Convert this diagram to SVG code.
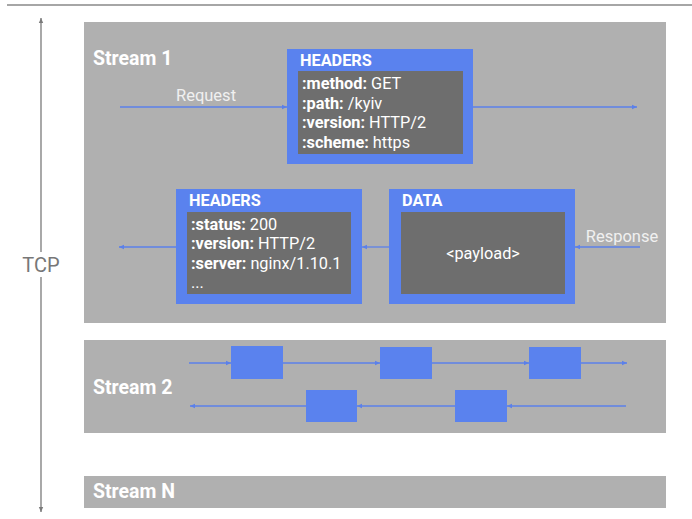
<svg xmlns="http://www.w3.org/2000/svg" width="692" height="519" viewBox="0 0 692 519">
<defs>
<style>
.stream{fill:#b0b0b0}
.blue{fill:#5a82ee}
.dark{fill:#6e6e6e}
.title{font-family:Roboto,"Liberation Sans",sans-serif;font-weight:bold;fill:#ffffff;font-size:19.5px}
.htitle{font-family:Roboto,"Liberation Sans",sans-serif;font-weight:bold;fill:#ffffff;font-size:16.3px}
.txt{font-family:Roboto,"Liberation Sans",sans-serif;fill:#ffffff;font-size:16.3px}
.lbl{font-family:Roboto,"Liberation Sans",sans-serif;fill:#f0f0f0;font-size:16.5px}
.conn{stroke:#5b80ea;stroke-width:1.3;fill:none;marker-end:url(#ah)}
.axis{stroke:#7a7a7a;stroke-width:1.3;fill:none}
</style>
<marker id="ah" markerWidth="6" markerHeight="6" refX="5" refY="3" orient="auto" markerUnits="userSpaceOnUse">
<path d="M0,0.8 L5,3 L0,5.2 z" fill="#5b80ea"/>
</marker>
<marker id="gah" markerWidth="6" markerHeight="6" refX="5" refY="3" orient="auto" markerUnits="userSpaceOnUse">
<path d="M0,0.8 L5,3 L0,5.2 z" fill="#7a7a7a"/>
</marker>
</defs>
<rect width="692" height="519" fill="#ffffff"/>
<line x1="7" y1="5" x2="692" y2="5" stroke="#888888" stroke-width="1.5"/>
<g id="tcp">
<line class="axis" x1="41" y1="252" x2="41" y2="18" marker-end="url(#gah)"/>
<line class="axis" x1="41" y1="277" x2="41" y2="512" marker-end="url(#gah)"/>
<text x="41" y="272" text-anchor="middle" font-family="Roboto,'Liberation Sans',sans-serif" font-size="20" fill="#777777">TCP</text>
</g>
<g id="stream1">
<rect class="stream" x="84" y="22" width="582" height="301"/>
<text class="title" x="93" y="65">Stream 1</text>
</g>
<g id="stream2">
<rect class="stream" x="84" y="340" width="582" height="93"/>
<text class="title" x="93" y="394">Stream 2</text>
</g>
<g id="streamN">
<rect class="stream" x="84" y="476" width="582" height="32"/>
<text class="title" x="93" y="498">Stream N</text>
</g>
<g id="req-headers">
<rect class="blue" x="287" y="49" width="186" height="115"/>
<rect class="dark" x="298" y="71" width="165" height="83"/>
<text class="htitle" x="300" y="65.5">HEADERS</text>
<text class="txt" x="302" y="89"><tspan font-weight="bold">:method:</tspan> GET</text>
<text class="txt" x="302" y="109"><tspan font-weight="bold">:path:</tspan> /kyiv</text>
<text class="txt" x="302" y="128"><tspan font-weight="bold">:version:</tspan> HTTP/2</text>
<text class="txt" x="302" y="147.5"><tspan font-weight="bold">:scheme:</tspan> https</text>
</g>
<g id="resp-headers">
<rect class="blue" x="176" y="189" width="186" height="115"/>
<rect class="dark" x="187" y="212" width="164" height="82"/>
<text class="htitle" x="189" y="205.5">HEADERS</text>
<text class="txt" x="191" y="230"><tspan font-weight="bold">:status:</tspan> 200</text>
<text class="txt" x="191" y="249"><tspan font-weight="bold">:version:</tspan> HTTP/2</text>
<text class="txt" x="191" y="269"><tspan font-weight="bold">:server:</tspan> nginx/1.10.1</text>
<text class="txt" x="191" y="288">...</text>
</g>
<g id="data">
<rect class="blue" x="389" y="189" width="186" height="115"/>
<rect class="dark" x="401" y="212" width="164" height="82"/>
<text class="htitle" x="402" y="205.5">DATA</text>
<text class="txt" x="483" y="259" text-anchor="middle">&lt;payload&gt;</text>
</g>
<g id="frames2">
<rect class="blue" x="231" y="346" width="52" height="33"/>
<rect class="blue" x="380" y="347" width="52" height="32"/>
<rect class="blue" x="529" y="347" width="52" height="32"/>
<rect class="blue" x="306" y="390" width="51" height="32"/>
<rect class="blue" x="455" y="390" width="52" height="32"/>
</g>
<g id="connectors">
<line class="conn" x1="120" y1="107" x2="287" y2="107"/>
<text class="lbl" x="206" y="101" text-anchor="middle">Request</text>
<line class="conn" x1="473" y1="107" x2="637" y2="107"/>
<line class="conn" x1="640" y1="247" x2="575" y2="247"/>
<text class="lbl" x="622" y="242" text-anchor="middle">Response</text>
<line class="conn" x1="389" y1="247" x2="362" y2="247"/>
<line class="conn" x1="176" y1="247" x2="119" y2="247"/>
<line class="conn" x1="189" y1="363" x2="231" y2="363"/>
<line class="conn" x1="283" y1="363" x2="380" y2="363"/>
<line class="conn" x1="432" y1="363" x2="529" y2="363"/>
<line class="conn" x1="581" y1="363" x2="627" y2="363"/>
<line class="conn" x1="626" y1="406" x2="507" y2="406"/>
<line class="conn" x1="455" y1="406" x2="357" y2="406"/>
<line class="conn" x1="306" y1="406" x2="190" y2="406"/>
</g>
</svg>
